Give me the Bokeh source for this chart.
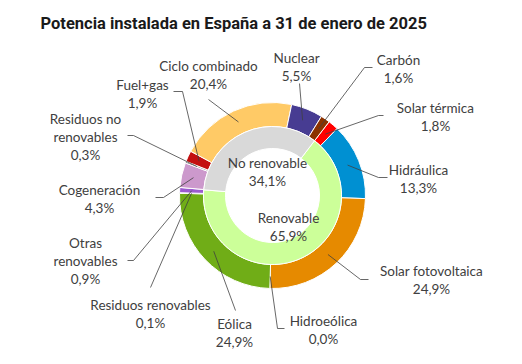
import math
from bokeh.plotting import figure
from bokeh.models import Range1d, ColumnDataSource
from bokeh.core.properties import value
from bokeh.embed import file_html
from bokeh.resources import INLINE

# ---------------- data ----------------
title_text = "Potencia instalada en España a 31 de enero de 2025"

# outer ring, clockwise starting at Solar térmica
outer_names = ["Solar térmica", "Hidráulica", "Solar fotovoltaica", "Hidroeólica",
               "Eólica", "Residuos renovables", "Otras\nrenovables", "Cogeneración",
               "Residuos no\nrenovables", "Fuel+gas", "Ciclo combinado", "Nuclear", "Carbón"]
outer_values = [1.8, 13.3, 24.9, 0.0, 24.9, 0.1, 0.9, 4.3, 0.3, 1.9, 20.4, 5.5, 1.6]

# inner ring
inner_names = ["Renovable", "No renovable"]
inner_values = [65.9, 34.1]

# ---------------- style / layout ----------------
outer_colors = ["#FF0000", "#0090D2", "#E68A00", "#2E75B6", "#70AD17", "#4E8F00",
                "#9B5BD0", "#CC99CC", "#7F7F7F", "#C41010", "#FFCA66", "#473C92", "#8B3200"]
inner_colors = ["#CCFF99", "#D9D9D9"]

W, H = 506, 356
CX, CY = 272, 195          # reference pixel coords of the centre
R_OUT, R_MID, R_IN = 93, 69, 47
START = 37.5               # degrees clockwise from 12 o'clock

# label centre (x, y of first line) in reference pixels
label_pos = {
    "Solar térmica": (435, 107), "Hidráulica": (418, 169), "Solar fotovoltaica": (431, 270),
    "Hidroeólica": (323, 320), "Eólica": (234, 323), "Residuos renovables": (150, 304),
    "Otras\nrenovables": (85, 242), "Cogeneración": (99, 189),
    "Residuos no\nrenovables": (85, 118), "Fuel+gas": (142, 84),
    "Ciclo combinado": (208, 65), "Nuclear": (296, 57), "Carbón": (398, 59),
    "Renovable": (288, 217), "No renovable": (267, 162),
}
# leader line start (and elbow) points in reference pixels
leader_pts = {
    "Solar térmica": [(383, 115), (378, 115)], "Hidráulica": [(387, 177), (378, 177)],
    "Solar fotovoltaica": [(368, 279), (360, 279)], "Hidroeólica": [(284, 328), (277, 328)],
    "Eólica": [(235, 310)], "Residuos renovables": [(150, 287)],
    "Otras\nrenovables": [(127, 260), (133, 260)], "Cogeneración": [(155, 197), (163, 197)],
    "Residuos no\nrenovables": [(127, 135), (133, 135)], "Fuel+gas": [(173, 91), (182, 91)],
    "Ciclo combinado": [(208, 99)], "Nuclear": [(299, 83)], "Carbón": [(372, 67), (364, 67)],
}
LINE_H = 18
FONT = value("Lato")
TXT_COL = "#404040"


def Y(yp):
    return 364 - yp


def pct(v):
    return f"{v:.1f}".replace(".", ",") + "%"


def ring(values):
    tot = sum(values)
    starts, ends = [], []
    a = START
    for v in values:
        b = a + 360.0 * v / tot
        starts.append(a)
        ends.append(b)
        a = b
    return starts, ends


p = figure(width=W, height=H, x_range=Range1d(0, W), y_range=Range1d(364 - H, 364),
           output_backend="svg", toolbar_location=None, min_border=0)
p.axis.visible = False
p.grid.visible = False
p.outline_line_color = None
p.background_fill_color = "white"
p.border_fill_color = "white"


def add_ring(values, colors, r_in, r_out):
    s, e = ring(values)
    keep = [i for i, v in enumerate(values) if v > 0]
    src = ColumnDataSource(dict(
        start=[math.radians(90 - s[i]) for i in keep],
        end=[math.radians(90 - e[i]) for i in keep],
        color=[colors[i] for i in keep]))
    p.annular_wedge(x=CX, y=Y(CY), inner_radius=r_in, outer_radius=r_out,
                    start_angle="start", end_angle="end", direction="clock",
                    fill_color="color", line_color="white", line_width=1, source=src)
    return s, e


os_, oe_ = add_ring(outer_values, outer_colors, R_MID, R_OUT)
add_ring(inner_values, inner_colors, R_IN, R_MID)

# leader lines
xs, ys = [], []
for i, name in enumerate(outer_names):
    mid = math.radians((os_[i] + oe_[i]) / 2)
    ex, ey = CX + 81 * math.sin(mid), CY - 81 * math.cos(mid)
    pts = leader_pts[name] + [(ex, ey)]
    xs.append([q[0] for q in pts])
    ys.append([Y(q[1]) for q in pts])
p.multi_line(xs=xs, ys=ys, line_color="#404040", line_width=0.8)

# labels
tx, ty, tt = [], [], []
for name, v in list(zip(outer_names, outer_values)) + list(zip(inner_names, inner_values)):
    lines = name.split("\n") + [pct(v)]
    x0, y0 = label_pos[name]
    for k, ln in enumerate(lines):
        tx.append(x0)
        ty.append(Y(y0 + k * LINE_H))
        tt.append(ln)
p.text(x=tx, y=ty, text=tt, text_align="center", text_baseline="middle",
       text_font=FONT, text_font_size="13.5px", text_color=TXT_COL)

# title
p.text(x=[40], y=[Y(23)], text=[title_text], text_align="left", text_baseline="alphabetic",
       text_font=value("Roboto"), text_font_style="bold", text_font_size="16.5px",
       text_color="#1A1A1A")

open("out.html", "w").write(file_html(p, INLINE))
